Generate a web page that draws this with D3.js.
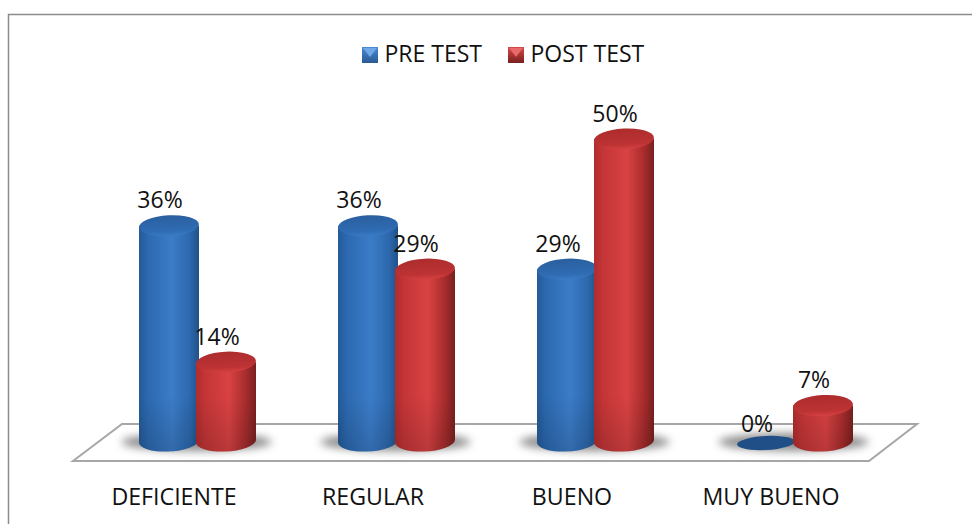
<!DOCTYPE html>
<html>
<head>
<meta charset="utf-8">
<script src="https://cdn.jsdelivr.net/npm/d3@7"></script>
<style>
  body { margin: 0; background: #fff; }
  text { font-family: "Open Sans", "Noto Sans", sans-serif; fill: #111; }
</style>
</head>
<body>
<script>
// values
var categories = ["DEFICIENTE", "REGULAR", "BUENO", "MUY BUENO"];
var seriesNames = ["PRE TEST", "POST TEST"];
var preTest = [36, 36, 29, 0];
var postTest = [14, 29, 50, 7];

var width = 972, height = 524;
var baseY = 439, rx = 30, ry = 10.5, tilt = -3;

var svg = d3.select("body").append("svg")
    .attr("width", width)
    .attr("height", height)
    .style("display", "block");

var defs = svg.append("defs");

function gradient(id, stops, vertical) {
  var g = defs.append("linearGradient").attr("id", id);
  if (vertical) g.attr("x2", 0).attr("y2", 1);
  stops.forEach(function(s) {
    g.append("stop").attr("offset", s[0]).attr("stop-color", s[1]);
  });
}
gradient("blueBody", [[0, "#245a98"], [0.15, "#2c69b0"], [0.55, "#3b7cc8"], [0.85, "#2c68ad"], [1, "#215189"]]);
gradient("redBody", [[0, "#b02c2d"], [0.15, "#c43537"], [0.55, "#d94243"], [0.82, "#aa2d2e"], [1, "#7a2020"]]);
gradient("blueCap", [[0, "#2a5f9f"], [0.75, "#2f6cb3"], [1, "#3b7cc6"]], true);
gradient("redCap", [[0, "#ad2c2d"], [0.75, "#bd3334"], [1, "#d64142"]], true);
gradient("blueIcon", [[0, "#4a8ad6"], [1, "#2b5a92"]], true);
gradient("redIcon", [[0, "#d84849"], [1, "#7a2020"]], true);

// darkens the foot of each cylinder
var foot = defs.append("linearGradient").attr("id", "foot")
    .attr("gradientUnits", "userSpaceOnUse")
    .attr("x1", 0).attr("x2", 0).attr("y1", 395).attr("y2", 450);
foot.append("stop").attr("offset", 0).attr("stop-color", "#000").attr("stop-opacity", 0);
foot.append("stop").attr("offset", 1).attr("stop-color", "#000").attr("stop-opacity", 0.14);

defs.append("filter").attr("id", "blur")
    .attr("x", "-30%").attr("y", "-100%").attr("width", "160%").attr("height", "300%")
  .append("feGaussianBlur").attr("stdDeviation", 4);

var colors = {
  "PRE TEST": { body: "url(#blueBody)", cap: "url(#blueCap)", icon: "url(#blueIcon)", light: "#6fa8e6", flat: "#1f4f86" },
  "POST TEST": { body: "url(#redBody)", cap: "url(#redCap)", icon: "url(#redIcon)", light: "#e8696a", flat: "#8f2020" }
};

// scales
var x0 = d3.scaleBand().domain(categories).range([98, 894]);
var x1 = d3.scaleBand().domain(seriesNames).range([42.5, 156.5]);
var y = d3.scaleLinear().domain([0, 50]).range([449, 139]);

// frame
svg.append("path")
    .attr("d", "M8.5," + height + "V14.5H" + width)
    .attr("fill", "none")
    .attr("stroke", "#8c8c8c")
    .attr("stroke-width", 1.5);

// floor
svg.append("path")
    .attr("d", "M73,461L122,424H917L869,461Z")
    .attr("fill", "#fff")
    .attr("stroke", "#a6a6a6")
    .attr("stroke-width", 2);

// flatten the two series into one list of bars
var bars = [];
categories.forEach(function(c, i) {
  bars.push({ cat: c, name: seriesNames[0], value: preTest[i] });
  bars.push({ cat: c, name: seriesNames[1], value: postTest[i] });
});

function cx(d) { return x0(d.cat) + x1(d.name) + x1.bandwidth() / 2; }

// shadows on the floor
svg.append("g").selectAll("ellipse")
    .data(categories)
  .enter().append("ellipse")
    .attr("cx", function(c) { return x0(c) + x0.bandwidth() / 2 - 1; })
    .attr("cy", 442)
    .attr("rx", 75)
    .attr("ry", 9)
    .attr("fill", "#777")
    .attr("opacity", 0.85)
    .attr("filter", "url(#blur)");

function cylinder(d) {
  var x = cx(d), top = y(d.value);
  var c = colors[d.name];
  var g = d3.select(this);
  if (d.value === 0) {
    g.append("ellipse")
        .attr("cx", x).attr("cy", 443)
        .attr("rx", rx - 1).attr("ry", 7)
        .attr("transform", "rotate(" + tilt + " " + x + " 443)")
        .attr("fill", c.flat);
    return;
  }
  var shape = "M" + (x - rx) + "," + top + "V" + (baseY + 3) +
              "A" + rx + "," + ry + " " + tilt + " 0 0 " + (x + rx) + "," + (baseY + 1) +
              "V" + top + "Z";
  g.append("path").attr("d", shape).attr("fill", c.body);
  g.append("path").attr("d", shape).attr("fill", "url(#foot)");
  g.append("ellipse")
      .attr("cx", x).attr("cy", top)
      .attr("rx", rx).attr("ry", ry)
      .attr("transform", "rotate(" + tilt + " " + x + " " + top + ")")
      .attr("fill", c.cap);
}

svg.append("g").selectAll("g")
    .data(bars)
  .enter().append("g")
    .each(cylinder);

// value labels
svg.append("g").selectAll("text")
    .data(bars)
  .enter().append("text")
    .attr("x", function(d) { return cx(d) - 9; })
    .attr("y", function(d) { return y(d.value) - 17.5; })
    .attr("text-anchor", "middle")
    .attr("font-size", 23)
    .text(function(d) { return d.value + "%"; });

// category labels
svg.append("g").selectAll("text")
    .data(categories)
  .enter().append("text")
    .attr("x", function(c) { return x0(c) + x0.bandwidth() / 2 - 23.5; })
    .attr("y", 504.5)
    .attr("text-anchor", "middle")
    .attr("font-size", 23.2)
    .text(function(c) { return c; });

// legend
var legendX = d3.scaleOrdinal().domain(seriesNames).range([362, 508]);
var legend = svg.append("g").selectAll("g")
    .data(seriesNames)
  .enter().append("g")
    .attr("transform", function(d) { return "translate(" + legendX(d) + ",47)"; });

legend.append("rect")
    .attr("width", 16).attr("height", 16)
    .attr("fill", function(d) { return colors[d].icon; });
legend.append("path")
    .attr("d", "M1,1H15L8,10Z")
    .attr("fill", function(d) { return colors[d].light; });
legend.append("text")
    .attr("x", 22.5).attr("y", 15)
    .attr("font-size", 23)
    .text(function(d) { return d; });
</script>
</body>
</html>
